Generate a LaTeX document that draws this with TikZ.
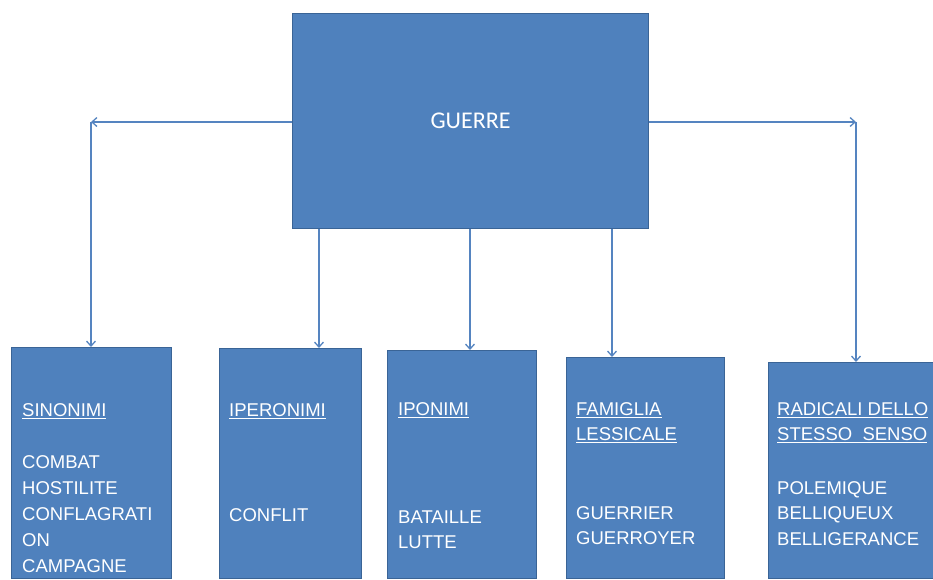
\documentclass[tikz,border=0pt]{standalone}
\usepackage{fontspec}
\setmainfont{Liberation Sans}
\newfontfamily\calib{Carlito}
\usetikzlibrary{arrows.meta}
\definecolor{boxfill}{HTML}{4F81BD}
\definecolor{boxline}{HTML}{3A6496}
\definecolor{conn}{HTML}{5584C0}
\tikzset{
  box/.style={draw=boxline, line width=1.2pt, fill=boxfill, anchor=north west, inner sep=0pt},
  arr/.style={draw=conn, line width=1.3pt, -{Straight Barb[length=5pt,width=9pt,line width=1.3pt]}},
  lbl/.style={anchor=north west, inner sep=0pt, text=white, align=left, font=\fontsize{18.5}{25.5}\selectfont},
}
\begin{document}
\begin{tikzpicture}[x=1pt,y=-1pt]
\useasboundingbox (0,0) rectangle (933,579);
\clip (0,0) rectangle (933,579);
\node[box, minimum width=356, minimum height=215] (guerre) at (292,13) {};
\node[text=white, font=\calib\fontsize{24}{28}\selectfont] (gt) at (guerre.center) {GUERRE};
% boxes
\node[box, minimum width=160, minimum height=231] (b1) at (11,347) {};
\node[box, minimum width=142, minimum height=230] (b2) at (219,348) {};
\node[box, minimum width=149, minimum height=228] (b3) at (387,350) {};
\node[box, minimum width=158, minimum height=221] (b4) at (566,357) {};
\node[box, minimum width=177, minimum height=216] (b5) at (768,362) {};
% texts
\node[lbl, font=\fontsize{18.5}{26}\selectfont] (t1) at (22,403.5) {\underline{SINONIMI}\\[26pt]COMBAT\\HOSTILITE\\CONFLAGRATI\\ON\\CAMPAGNE};
\node[lbl, font=\fontsize{18.5}{26}\selectfont] (t2) at (229,403) {\underline{IPERONIMI}\\[79pt]CONFLIT};
\node[lbl] (t3) at (398,402) {\underline{IPONIMI}\\[82.5pt]BATAILLE\\LUTTE};
\node[lbl] (t4) at (576,402) {\underline{FAMIGLIA}\\\underline{LESSICALE}\\[53pt]GUERRIER\\GUERROYER};
\node[lbl] (t5) at (777,402) {\underline{RADICALI DELLO}\\\underline{STESSO\ \ SENSO}\\[28pt]POLEMIQUE\\BELLIQUEUX\\BELLIGERANCE};
% connectors
\coordinate (cL) at (91,122);
\coordinate (cR) at (856,122);
\coordinate (x2) at (319,0);
\coordinate (x3) at (470,0);
\coordinate (x4) at (612,0);
\draw[arr] (guerre.west |- cL) -- (cL);
\draw[arr] (cL) -- (b1.north -| cL);
\draw[arr] (guerre.east |- cR) -- (cR);
\draw[arr] (cR) -- (b5.north -| cR);
\draw[arr] (guerre.south -| x2) -- (b2.north -| x2);
\draw[arr] (guerre.south -| x3) -- (b3.north -| x3);
\draw[arr] (guerre.south -| x4) -- (b4.north -| x4);
\end{tikzpicture}
\end{document}
